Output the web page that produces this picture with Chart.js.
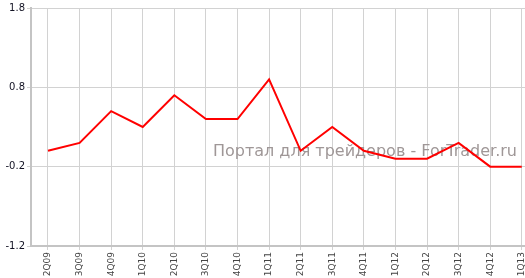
<!DOCTYPE html>
<html>
<head>
<meta charset="utf-8">
<script src="https://cdn.jsdelivr.net/npm/chart.js@4/dist/chart.umd.min.js"></script>
<style>
  html, body { margin: 0; padding: 0; background: #ffffff; overflow: hidden; }
  #wrap { width: 525px; height: 278px; position: relative; }
</style>
</head>
<body>
<div id="wrap"><canvas id="c" width="525" height="278"></canvas></div>
<script>
const categories = ['2Q09','3Q09','4Q09','1Q10','2Q10','3Q10','4Q10','1Q11','2Q11','3Q11','4Q11','1Q12','2Q12','3Q12','4Q12','1Q13'];
const values = [0.0, 0.1, 0.5, 0.3, 0.7, 0.4, 0.4, 0.9, 0.0, 0.3, 0.0, -0.1, -0.1, 0.1, -0.2, -0.2];
const yTicks = [-1.2, -0.2, 0.8, 1.8];
const watermark = 'Портал для трейдеров - ForTrader.ru';

const points = categories.map((c, i) => ({ x: i, y: values[i] }));

const watermarkPlugin = {
  id: 'watermark',
  beforeDatasetsDraw(chart) {
    const ctx = chart.ctx;
    ctx.save();
    ctx.font = '16px "DejaVu Sans"';
    ctx.fillStyle = '#9f9797';
    ctx.textAlign = 'right';
    ctx.textBaseline = 'alphabetic';
    ctx.fillText(watermark, 517, 156);
    ctx.restore();
  }
};

new Chart(document.getElementById('c'), {
  type: 'line',
  data: {
    datasets: [{
      data: points,
      borderColor: '#ff0000',
      borderWidth: 2,
      pointRadius: 0,
      tension: 0,
      fill: false
    }]
  },
  options: {
    responsive: false,
    animation: false,
    events: [],
    layout: { padding: { top: 7, right: 0, left: 0, bottom: 0 } },
    plugins: { legend: { display: false }, tooltip: { enabled: false } },
    scales: {
      x: {
        type: 'linear',
        min: -0.538,
        max: 15.102,
        afterBuildTicks: s => { s.ticks = categories.map((c, i) => ({ value: i })); },
        afterFit: s => { s.height = 32; s.paddingLeft = 0; s.paddingRight = 0; },
        ticks: {
          autoSkip: false,
          minRotation: 90,
          maxRotation: 90,
          padding: 2,
          color: '#444444',
          font: { family: '"DejaVu Sans"', size: 9 },
          callback: v => categories[v] ?? ''
        },
        grid: { color: '#d2d2d2', lineWidth: 1, tickLength: 4, drawTicks: true },
        border: { display: true, color: '#c4c4c4', width: 2 }
      },
      y: {
        min: -1.2,
        max: 1.8,
        afterBuildTicks: s => { s.ticks = yTicks.map(v => ({ value: v })); },
        afterFit: s => { s.width = 31; },
        ticks: {
          padding: 2,
          color: '#111122',
          font: { family: '"DejaVu Sans"', size: 10 },
          callback: v => Number(v).toFixed(1)
        },
        grid: { color: '#d2d2d2', lineWidth: 1, tickLength: 4, drawTicks: true },
        border: { display: true, color: '#c4c4c4', width: 2 }
      }
    }
  },
  plugins: [watermarkPlugin]
});
</script>
</body>
</html>
